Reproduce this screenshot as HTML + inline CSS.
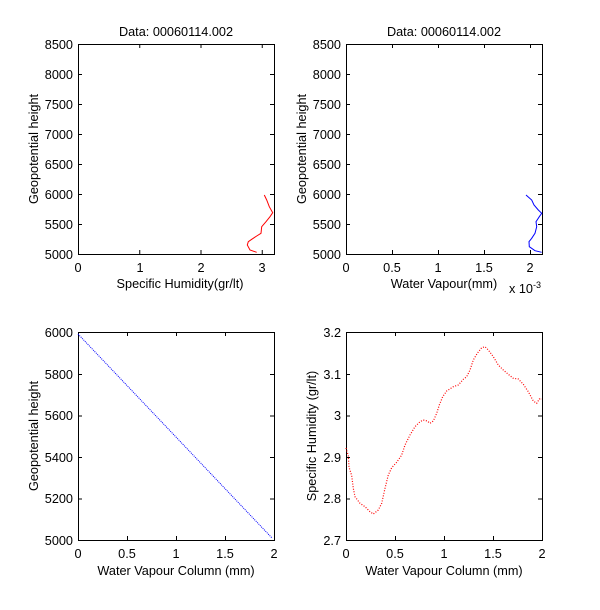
<!DOCTYPE html>
<html><head><style>body{margin:0;background:#fff}svg{display:block}text{font-family:"Liberation Sans",sans-serif;font-size:12.7px;fill:#000}</style></head><body>
<svg width="600" height="610" viewBox="0 0 600 610" xmlns="http://www.w3.org/2000/svg">
<rect width="600" height="610" fill="#fff"/>
<g stroke="#000" stroke-width="1" fill="none">
<rect x="78.5" y="44.5" width="196" height="210"/>
<rect x="346.5" y="44.5" width="196" height="210"/>
<rect x="78.5" y="332.5" width="196" height="208"/>
<rect x="346.5" y="332.5" width="196" height="208"/>
<path d="M139.75 254v-4M139.75 44v4M201 254v-4M201 44v4M262.25 254v-4M262.25 44v4
M78 224.5h4M274 224.5h-4M78 194.5h4M274 194.5h-4M78 164.5h4M274 164.5h-4M78 134.5h4M274 134.5h-4M78 104.5h4M274 104.5h-4M78 74.5h4M274 74.5h-4"/>
<path d="M392.5 254v-4M392.5 44v4M438.5 254v-4M438.5 44v4M484.5 254v-4M484.5 44v4M530.5 254v-4M530.5 44v4
M346 224.5h4M542 224.5h-4M346 194.5h4M542 194.5h-4M346 164.5h4M542 164.5h-4M346 134.5h4M542 134.5h-4M346 104.5h4M542 104.5h-4M346 74.5h4M542 74.5h-4"/>
<path d="M127.5 540v-4M127.5 332v4M176.5 540v-4M176.5 332v4M225.5 540v-4M225.5 332v4
M78 499h4M274 499h-4M78 457.5h4M274 457.5h-4M78 416h4M274 416h-4M78 374.5h4M274 374.5h-4"/>
<path d="M395.5 540v-4M395.5 332v4M444.5 540v-4M444.5 332v4M493.5 540v-4M493.5 332v4
M346 499h4M542 499h-4M346 457.5h4M542 457.5h-4M346 416h4M542 416h-4M346 374.5h4M542 374.5h-4"/>
</g>
<polyline fill="none" stroke="#f00" stroke-width="1" points="264.3,195 266.7,200 269.3,206.7 272.7,212.7 270,216.7 266,221.7 261.7,226.7 261,233.3 256.7,236 251.7,239.3 248.3,241.7 247.3,245 250,250 256.7,252.3"/>
<polyline fill="none" stroke="#00f" stroke-width="1" points="526,195 531.7,200 534,205 538.3,210 541.7,213.3 539.3,216.7 536,221.7 536.7,226.7 535,233.3 531.7,238.3 529,241.7 529.3,246.7 535,250.7 541.7,252.3"/>
<line x1="78" y1="334" x2="272" y2="538" stroke="#00f" stroke-width="1" stroke-dasharray="1 1"/>
<polyline fill="none" stroke="#f00" stroke-width="1.2" stroke-dasharray="1 1.6" points="346,448 348.3,455.7 349,467 351.7,475.7 353.3,488.3 355,496.7 360,503.3 365,506.7 370,511.7 373.3,514 378.3,510 381.7,503.3 385,488.3 388.3,475 391.7,467.7 396.7,462.3 401.7,455 405,445 410,435 415,426.7 420,421.7 423.3,420 427.3,421 430,423.3 433.3,421 436.7,413.3 439.3,405 442.7,396.7 446.7,391 453.3,386.7 458.3,385 463.3,379.3 466.7,376.7 470,370 473.3,360 477.3,353.3 481.7,347.7 485,346.7 488.3,350 493.3,356.7 498.3,365 503.3,370 508.3,374.3 513.3,378.3 518.3,379 523.3,384.3 528.3,391.7 533.3,401 536.7,403.3 539.3,399 542,399"/>
<g text-anchor="middle">
<text x="176" y="36">Data: 00060114.002</text>
<text x="444" y="36">Data: 00060114.002</text>
<text x="78" y="272">0</text><text x="140" y="272">1</text><text x="201" y="272">2</text><text x="262" y="272">3</text>
<text x="180" y="288">Specific Humidity(gr/lt)</text>
<text x="346" y="272">0</text><text x="392" y="272">0.5</text><text x="438" y="272">1</text><text x="484" y="272">1.5</text><text x="530" y="272">2</text>
<text x="444" y="288">Water Vapour(mm)</text>
<text x="78" y="558">0</text><text x="127" y="558">0.5</text><text x="176" y="558">1</text><text x="225" y="558">1.5</text><text x="274" y="558">2</text>
<text x="176" y="575">Water Vapour Column (mm)</text>
<text x="346" y="558">0</text><text x="395" y="558">0.5</text><text x="444" y="558">1</text><text x="493" y="558">1.5</text><text x="542" y="558">2</text>
<text x="444" y="575">Water Vapour Column (mm)</text>
</g>
<text x="509" y="293">x 10<tspan dy="-5" font-size="9">-3</tspan></text>
<g text-anchor="end">
<text x="73" y="259">5000</text><text x="73" y="229">5500</text><text x="73" y="199">6000</text><text x="73" y="169">6500</text><text x="73" y="139">7000</text><text x="73" y="109">7500</text><text x="73" y="79">8000</text><text x="73" y="49">8500</text>
<text x="341" y="259">5000</text><text x="341" y="229">5500</text><text x="341" y="199">6000</text><text x="341" y="169">6500</text><text x="341" y="139">7000</text><text x="341" y="109">7500</text><text x="341" y="79">8000</text><text x="341" y="49">8500</text>
<text x="73" y="545">5000</text><text x="73" y="503">5200</text><text x="73" y="462">5400</text><text x="73" y="420">5600</text><text x="73" y="379">5800</text><text x="73" y="337">6000</text>
<text x="341" y="545">2.7</text><text x="341" y="503">2.8</text><text x="341" y="462">2.9</text><text x="341" y="420">3</text><text x="341" y="379">3.1</text><text x="341" y="337">3.2</text>
</g>
<g text-anchor="middle">
<text transform="translate(38,149) rotate(-90)">Geopotential height</text>
<text transform="translate(306,149) rotate(-90)">Geopotential height</text>
<text transform="translate(38,436) rotate(-90)">Geopotential height</text>
<text transform="translate(316,436) rotate(-90)">Specific Humidity (gr/lt)</text>
</g>
</svg>
</body></html>
